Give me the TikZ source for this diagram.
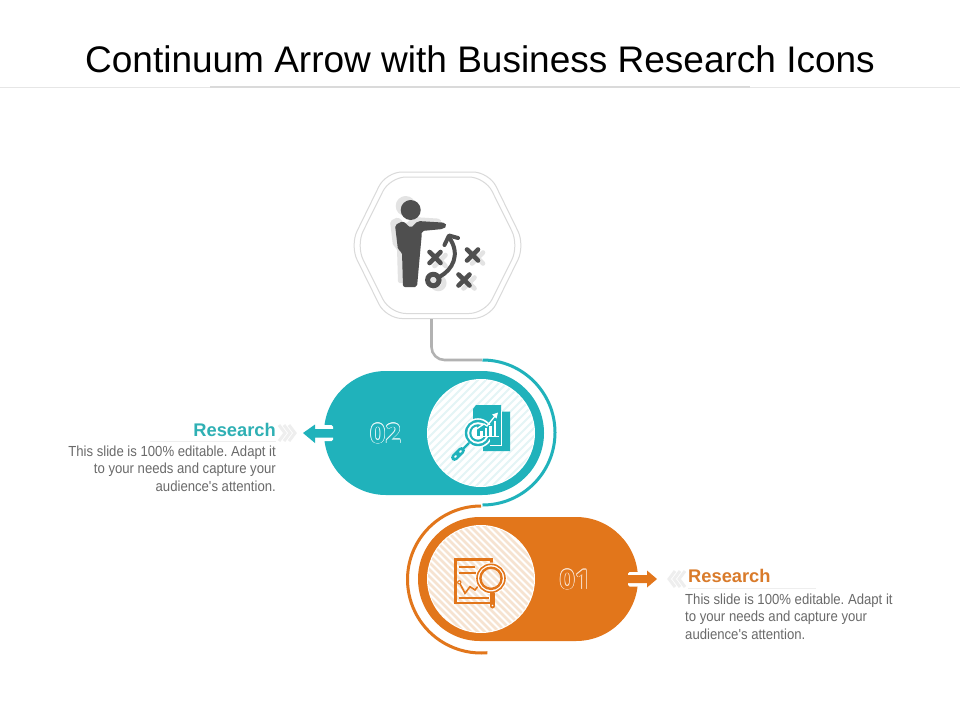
\documentclass[tikz,border=0pt]{standalone}
\usepackage{fontspec}
\setmainfont{Liberation Sans}
\newfontfamily\bodyfont[FakeStretch=0.9]{Liberation Sans}
\newfontfamily\numfont{Open Sans}
\definecolor{tealc}{HTML}{20B2BB}
\definecolor{orangec}{HTML}{E2761B}
\definecolor{tealt}{HTML}{2FB0B4}
\definecolor{oranget}{HTML}{D97B2B}
\definecolor{stripeT}{HTML}{E4F5F6}
\definecolor{stripeO}{HTML}{F6E3D1}
\definecolor{bodygray}{HTML}{6A6A6A}
\definecolor{icondark}{HTML}{4F4F4F}
\definecolor{iconshadow}{HTML}{E3E3E3}
\definecolor{hexline}{HTML}{DADADA}
\definecolor{chev}{HTML}{EEEEEE}
\definecolor{rulegray}{HTML}{E6E6E6}
\newcommand\oc[3]{\rlap{\kern#1pt\raisebox{#2pt}{#3}}}
\newcommand\strokedtext[3]{\leavevmode{\color{#2}\oc{.65}{0}{#1}\oc{-.65}{0}{#1}\oc{0}{.65}{#1}\oc{0}{-.65}{#1}\oc{.46}{.46}{#1}\oc{-.46}{.46}{#1}\oc{.46}{-.46}{#1}\oc{-.46}{-.46}{#1}}{\color{#3}#1}}
\tikzset{
  bodytext/.style={font=\bodyfont\frenchspacing\fontsize{14.6}{17.6}\selectfont,text=bodygray,inner sep=0pt},
  headtext/.style={font=\bfseries\fontsize{18.3}{20}\selectfont,inner sep=0pt},
  numtext/.style={font=\numfont\bfseries\fontsize{27}{30}\selectfont,inner sep=0pt},
  hexshape/.style={draw=hexline,line width=1pt,rounded corners=16pt},
  chevron/.style={draw=chev,line width=3pt},
  crossmark/.style={line width=4.6pt,line cap=round},
}
\begin{document}
\begin{tikzpicture}[x=1pt,y=1pt,yscale=-1]
\useasboundingbox (0,0) rectangle (960,720);
\fill[white] (0,0) rectangle (960,720);
% header
\node[font=\fontsize{37}{40}\selectfont,text=black,inner sep=0pt,anchor=base] (title) at (480,72) {Continuum Arrow with Business Research Icons};
\draw[rulegray,line width=1pt] (0,87) -- (960,87);
\draw[hexline,line width=1.2pt] (210,87) -- (750,87);
% hexagon
\draw[hexshape] (386,172) -- (489,172) -- (525,245.5) -- (489,318.5) -- (386,318.5) -- (350,245.5) -- cycle;
\draw[hexshape] (390,177) -- (485,177) -- (519,245.5) -- (485,313.5) -- (390,313.5) -- (356,245.5) -- cycle;
% connector
\coordinate (hexbottom) at (431.5,319);
\coordinate (arctop) at (482,360);
\draw[gray!60,line width=2.6pt,rounded corners=13pt] (hexbottom) -- (431.5,360) -- (arctop);
% teal pill
\fill[tealc,rounded corners=62pt] (324,371) rectangle (544,495);
\draw[tealc,line width=3pt] (482.5,360) arc[start angle=-90,end angle=90,radius=72.5];
\fill[white] (481,433) circle[radius=54];
\begin{scope}
\clip (481,433) circle[radius=53];
\foreach \k in {-10,...,10} \draw[stripeT,line width=2pt] (481+\k*8-70,433+70) -- (481+\k*8+70,433-70);
\end{scope}
% teal arrow
\fill[white,rounded corners=1.5pt] (322,425) rectangle (333,441);
\fill[tealc] (303,433) -- (315,424.5) -- (315,429) -- (335,429) -- (335,437.5) -- (315,437.5) -- (315,443) -- cycle;
% orange pill
\fill[orangec,rounded corners=62pt] (418,517) rectangle (638,641);
\draw[orangec,line width=3pt] (481,506) arc[start angle=-90,end angle=-275,radius=73.5];
\fill[white] (481,579) circle[radius=54];
\begin{scope}
\clip (481,579) circle[radius=53];
\foreach \k in {-12,...,12} \draw[stripeO,line width=2.6pt] (481+\k*7-70,579-70) -- (481+\k*7+70,579+70);
\end{scope}
% orange arrow
\fill[white,rounded corners=1.5pt] (628,572) rectangle (640,586.5);
\fill[orangec] (657,579) -- (647,570.5) -- (647,575) -- (626,575) -- (626,583) -- (647,583) -- (647,587.5) -- cycle;
% numbers
\node[numtext] (n02) at (385.5,433.5) {\strokedtext{02}{white!92!tealc}{tealc}};
\node[numtext] (n01) at (575,579.5) {\strokedtext{01}{white!82!orangec}{orangec}};
% chevrons
\foreach \d in {0,5,10} \draw[chevron] (279+\d,425) -- (285+\d,433) -- (279+\d,441);
\foreach \d in {0,5,10} \draw[chevron] (685-\d,571) -- (679-\d,579) -- (685-\d,587);
% text rules
\draw[chev,line width=1pt] (150,441) -- (276,441);
\draw[chev,line width=1pt] (688,588) -- (816,588);
% labels
\node[headtext,text=tealt,anchor=base east] (lab2) at (276,436.5) {Research};
\node[headtext,text=oranget,anchor=base west] (lab1) at (688,582.5) {Research};
\node[bodytext,align=right,anchor=north east] (txt2) at (276,445.5) {This slide is 100\% editable. Adapt it\\to your needs and capture your\\audience's attention.};
\node[bodytext,align=left,anchor=north west] (txt1) at (685,593.5) {This slide is 100\% editable. Adapt it\\to your needs and capture your\\audience's attention.};
% person icon shadow
\begin{scope}[shift={(-5,-4)},iconshadow]
\fill (410.7,210) circle[radius=10];
\fill[rounded corners=2pt] (395,225) -- (403,221) -- (410.7,228) -- (418,221) -- (445,222.7) -- (447,226) -- (443,229) -- (421.7,231) -- (421.7,235) -- (417,287) -- (403,287) -- (402,252) -- (398,250) -- cycle;
\end{scope}
\begin{scope}[shift={(5,3)},iconshadow]
\draw[line width=4.6pt,line cap=round] (429.5,252) -- (440.5,263) (429.5,263) -- (440.5,252);
\draw[line width=4.6pt,line cap=round] (467,249.5) -- (478,260.5) (467,260.5) -- (478,249.5);
\draw[line width=4.6pt,line cap=round] (458.5,274.5) -- (469.5,285.5) (458.5,285.5) -- (469.5,274.5);
\draw[line width=5pt] (433.3,280) circle[radius=5.7];
\end{scope}
% person icon
\begin{scope}[icondark]
\fill (410.7,210) circle[radius=10];
\fill[rounded corners=2pt] (395,225) -- (403,221) -- (410.7,228) -- (418,221) -- (445,222.7) -- (447,226) -- (443,229) -- (421.7,231) -- (421.7,235) -- (417,287) -- (403,287) -- (402,252) -- (398,250) -- cycle;
\draw[crossmark] (429.5,252) -- (440.5,263) (429.5,263) -- (440.5,252);
\draw[crossmark] (467,249.5) -- (478,260.5) (467,260.5) -- (478,249.5);
\draw[crossmark] (458.5,274.5) -- (469.5,285.5) (458.5,285.5) -- (469.5,274.5);
\draw[line width=5pt] (433.3,280) circle[radius=5.7];
\draw[line width=4pt] (440,276.5) .. controls (452,270) and (461,255) .. (449.5,238);
\draw[line width=4pt,line cap=round,line join=round] (444.5,245) -- (449,235.5) -- (458,238);
\end{scope}
% teal icon
\begin{scope}
\fill[tealc] (476,405) -- (501,405) -- (501,411.7) -- (510,411.7) -- (510,451) -- (483,451) -- (483,445) -- (473,445) -- (473,409) -- cycle;
\fill[white] (478,433) circle[radius=14.8];
\fill[tealc] (478,433) circle[radius=13.2];
\fill[white] (478,433) circle[radius=10.8];
\fill[tealc] (478,433) circle[radius=8.8];
\fill[white] (478,433) circle[radius=6.6];
\fill[tealc] (477,425) rectangle (501,436);
\fill[tealc] (490,437) rectangle (501,445);
\draw[white,line width=.8pt] (501.5,411) -- (501.5,445.5) -- (490,445.5);
\foreach \xx/\yy in {480/431,484.5/428,489/426,493.5/421} \fill[white] (\xx,\yy) rectangle (\xx+2.7,436);
\fill[white] (476,436) rectangle (499,437.2);
\draw[white,line width=1.3pt] (475,430) -- (484,424) -- (487,426) -- (495,416);
\fill[white] (498,412.5) -- (492,414.5) -- (496.5,418.5) -- cycle;
\draw[tealc,line width=2.4pt] (469,443) -- (462,450);
\draw[tealc,line width=6.8pt,line cap=round] (461.5,450.5) -- (454.5,457.5);
\draw[white,line width=2pt,line cap=round] (461,451) -- (460,452) (456,456) -- (455,457);
\end{scope}
% orange icon
\begin{scope}
\draw[orangec,line width=2.2pt] (455.5,559.5) rectangle (491.5,603);
\draw[orangec,line width=2pt] (458.5,567) -- (475,567) (458.5,572.7) -- (476,572.7);
\draw[orangec,line width=2pt] (458.5,598.3) -- (489,598.3);
\draw[orangec,line width=1.6pt] (459.3,582.3) -- (465,593.3) -- (470,586.7) -- (475,590) -- (479,585);
\fill[orangec] (459.3,582.3) circle[radius=2.2];
\fill[white] (459.3,582.3) circle[radius=1];
\fill[white] (491,578.3) circle[radius=15.8];
\begin{scope}
\clip (491,578.3) circle[radius=10];
\foreach \k in {-12,...,12} \draw[stripeO,line width=2.6pt] (481+\k*7-70,579-70) -- (481+\k*7+70,579+70);
\end{scope}
\draw[orangec,line width=1.6pt] (491,578.3) circle[radius=14];
\draw[orangec,line width=2.4pt] (491,578.3) circle[radius=10.6];
\fill[orangec] (490,593) rectangle (495,606);
\fill[orangec] (492.5,606) circle[radius=2.5];
\fill[white] (492.5,605.5) circle[radius=.8];
\end{scope}
\end{tikzpicture}
\end{document}
